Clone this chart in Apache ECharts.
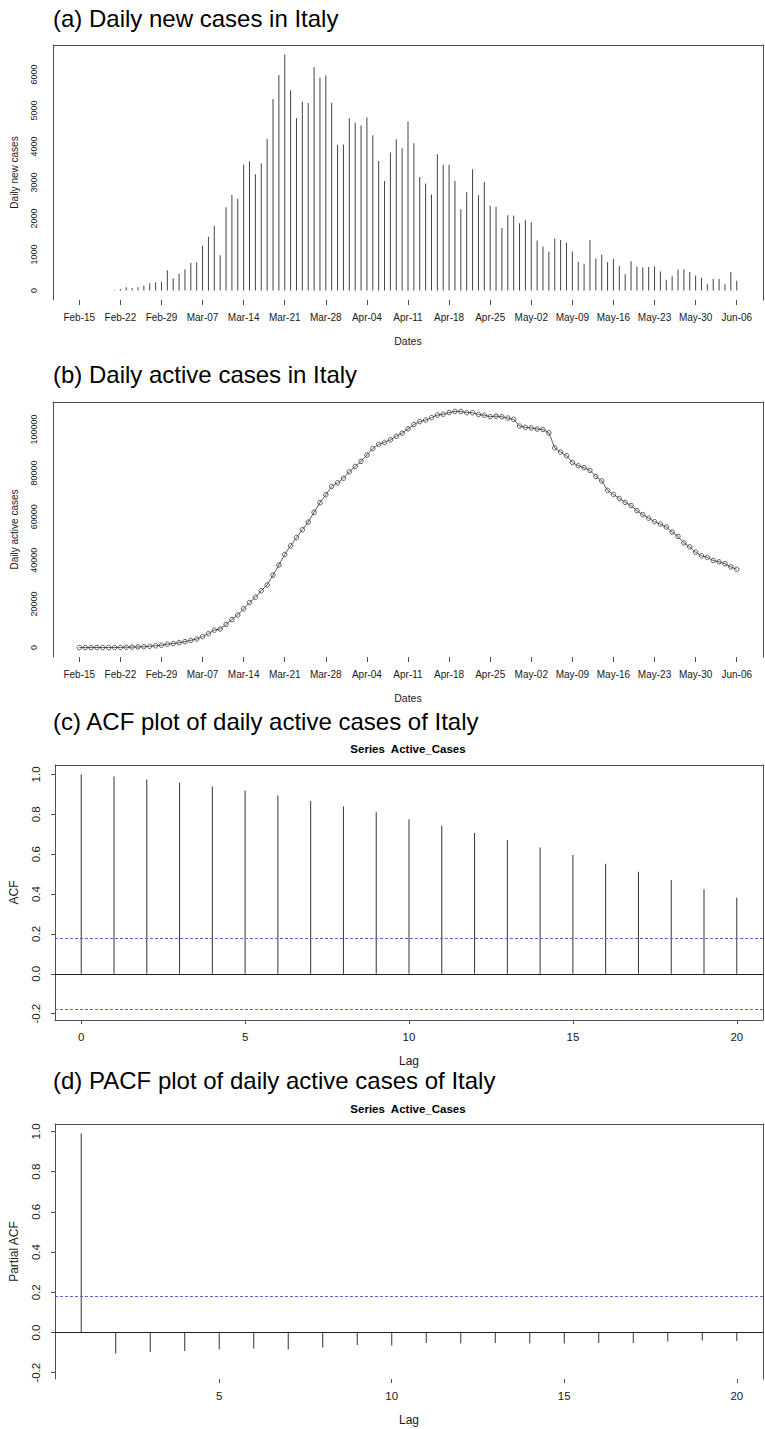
<!DOCTYPE html>
<html>
<head>
<meta charset="utf-8">
<script src="https://cdn.jsdelivr.net/npm/echarts@6/dist/echarts.min.js"></script>
<style>
  html, body { margin: 0; padding: 0; background: #fff; }
  #chart { width: 765px; height: 1429px; }
</style>
</head>
<body>
<div id="chart"></div>
<script>
// Italy, one value per day from Feb-15 (day 0) to Jun-06 (day 112)
const newCases = [
  0, 0, 0, 0, 0, 0,
  17, 42, 93, 74, 93, 131, 202, 233, 240,
  566, 342, 466, 587, 769, 778, 1247, 1492, 1797, 977,
  2313, 2651, 2547, 3497, 3590, 3233, 3526, 4207, 5322, 5986,
  6557, 5560, 4789, 5249, 5210, 6203, 5909, 5974, 5217, 4050, 4053,
  4782, 4668, 4585, 4805, 4316, 3599, 3039, 3836, 4204, 3951,
  4694, 4092, 3153, 2972, 2667, 3786, 3493, 3491, 3047, 2256,
  2729, 3370, 2646, 3021, 2357, 2324, 1739, 2091, 2086, 1872,
  1965, 1900, 1389, 1221, 1075, 1444, 1401, 1327, 1083, 802,
  744, 1402, 888, 992, 789, 875, 675, 451, 813, 665,
  642, 652, 669, 531, 300, 397, 584, 593, 516, 416, 355,
  178, 318, 321, 177, 518, 270
];

const activeCases = [
  3, 3, 3, 3, 3, 3,
  20, 62, 152, 221, 311, 385, 588, 821, 1049,
  1577, 1835, 2263, 2706, 3296, 3916, 5061, 6387, 7985, 8514,
  10590, 12839, 14955, 17750, 20603, 23073, 26062, 28710, 33190, 37860,
  42681, 46638, 50418, 54030, 57521, 62013, 66414, 70065, 73880, 75528, 77635,
  80572, 83049, 85388, 88274, 91246, 93187, 94067, 95262, 96877, 98273,
  100269, 102253, 103616, 104291, 105418, 106607, 106962, 107771, 108257, 108237,
  107709, 107699, 106848, 106527, 105847, 106103, 105813, 105205, 104657, 101551,
  100943, 100704, 100179, 99980, 98467, 91528, 89624, 87961, 84842, 83324,
  82488, 81266, 78457, 76440, 72070, 70187, 68351, 66553, 65129, 62752,
  60960, 59322, 57752, 56594, 55300, 52942, 50966, 47986, 46175, 43691, 42075,
  41367, 39893, 39297, 38429, 36976, 35877
];

// Weekly date ticks (day offsets and their labels)
const dateTickDays = [0, 7, 14, 21, 28, 35, 42, 49, 56, 63, 70, 77, 84, 91, 98, 105, 112];
const dateTickLabels = [
  'Feb-15', 'Feb-22', 'Feb-29', 'Mar-07', 'Mar-14', 'Mar-21', 'Mar-28', 'Apr-04', 'Apr-11',
  'Apr-18', 'Apr-25', 'May-02', 'May-09', 'May-16', 'May-23', 'May-30', 'Jun-06'
];
const newCaseTicks = [0, 1000, 2000, 3000, 4000, 5000, 6000];
const activeCaseTicks = [0, 20000, 40000, 60000, 80000, 100000];

// Autocorrelation of the active-case series
const acfLags = [0, 1, 2, 3, 4, 5, 6, 7, 8, 9, 10, 11, 12, 13, 14, 15, 16, 17, 18, 19, 20];
const acfValues = [
  1.0, 0.99, 0.975, 0.958, 0.94, 0.919, 0.894, 0.867, 0.839, 0.81,
  0.775, 0.743, 0.706, 0.671, 0.633, 0.596, 0.552, 0.512, 0.47, 0.424, 0.381
];
const pacfLags = [1, 2, 3, 4, 5, 6, 7, 8, 9, 10, 11, 12, 13, 14, 15, 16, 17, 18, 19, 20];
const pacfValues = [
  0.99, -0.105, -0.097, -0.092, -0.085, -0.08, -0.085, -0.075, -0.062, -0.065,
  -0.052, -0.055, -0.052, -0.055, -0.055, -0.052, -0.052, -0.045, -0.04, -0.042
];
const lagTicksAcf = [0, 5, 10, 15, 20];
const lagTicksPacf = [5, 10, 15, 20];
const corrTicks = [-0.2, 0, 0.2, 0.4, 0.6, 0.8, 1.0];

// ---- helpers ----
const FONT = '"Liberation Sans", Arial, Helvetica, sans-serif';
const FRAME = '#505050';
const INK = '#1a1a1a';
const CI_BLUE = '#5a6cc4';

// data range widened by 4% on each side
function padRange(lo, hi) {
  const d = (hi - lo) * 0.04;
  return [lo - d, hi + d];
}
const ciBound = 1.96 / Math.sqrt(activeCases.length);

const dayRange = padRange(0, newCases.length - 1);
const newRange = padRange(Math.min(...newCases), Math.max(...newCases));
const activeRange = padRange(Math.min(...activeCases), Math.max(...activeCases));
const acfXRange = padRange(acfLags[0], acfLags[acfLags.length - 1]);
const pacfXRange = padRange(pacfLags[0], pacfLags[pacfLags.length - 1]);
const acfYRange = padRange(Math.min(-ciBound, ...acfValues), Math.max(ciBound, ...acfValues));
const pacfYRange = padRange(Math.min(-ciBound, ...pacfValues), Math.max(ciBound, ...pacfValues));

const PLOT_LEFT = 53, PLOT_W = 710, PLOT_H = 255;
const gridTops = [45, 402, 765, 1124];

// frame-only axis (top or right side of a panel)
function frameX(grid, range) {
  return {
    gridIndex: grid, type: 'value', position: 'top', min: range[0], max: range[1],
    axisLine: { show: true, onZero: false, lineStyle: { color: FRAME, width: 1 } },
    axisTick: { show: false }, axisLabel: { show: false }, splitLine: { show: false }
  };
}
function frameY(grid, range) {
  return {
    gridIndex: grid, type: 'value', position: 'right', min: range[0], max: range[1],
    axisLine: { show: true, onZero: false, lineStyle: { color: FRAME, width: 1 } },
    axisTick: { show: false }, axisLabel: { show: false }, splitLine: { show: false }
  };
}
function dateAxis(grid) {
  return {
    gridIndex: grid, type: 'value', position: 'bottom', min: dayRange[0], max: dayRange[1],
    axisLine: { show: false, onZero: false },
    axisTick: { show: true, length: 5, customValues: dateTickDays, lineStyle: { color: FRAME } },
    axisLabel: {
      customValues: dateTickDays, fontSize: 10, margin: 12, color: INK, fontFamily: FONT,
      formatter: v => dateTickLabels[dateTickDays.indexOf(v)]
    },
    splitLine: { show: false },
    name: 'Dates', nameLocation: 'middle', nameGap: 35,
    nameTextStyle: { fontSize: 10.5, color: INK, fontFamily: FONT }
  };
}
function countAxis(grid, range, ticks, name) {
  return {
    gridIndex: grid, type: 'value', position: 'left', min: range[0], max: range[1],
    axisLine: { show: true, onZero: false, lineStyle: { color: FRAME, width: 1 } },
    axisTick: { show: false },
    axisLabel: {
      customValues: ticks, rotate: 90, fontSize: 9, margin: 15, color: INK, fontFamily: FONT,
      formatter: v => String(v)
    },
    splitLine: { show: false },
    name: name, nameLocation: 'middle', nameRotate: 90, nameGap: 34,
    nameTextStyle: { fontSize: 10, color: INK, fontFamily: FONT }
  };
}
function lagAxis(grid, range, ticks, showLine) {
  return {
    gridIndex: grid, type: 'value', position: 'bottom', min: range[0], max: range[1],
    axisLine: { show: showLine, onZero: false, lineStyle: { color: FRAME, width: 1 } },
    axisTick: { show: true, length: 4, customValues: ticks, lineStyle: { color: FRAME } },
    axisLabel: {
      customValues: ticks, fontSize: 11.5, margin: 11, color: INK, fontFamily: FONT,
      formatter: v => String(v)
    },
    splitLine: { show: false },
    name: 'Lag', nameLocation: 'middle', nameGap: 35,
    nameTextStyle: { fontSize: 12, color: INK, fontFamily: FONT }
  };
}
function corrAxis(grid, range, name) {
  return {
    gridIndex: grid, type: 'value', position: 'left', min: range[0], max: range[1],
    axisLine: { show: true, onZero: false, lineStyle: { color: FRAME, width: 1 } },
    axisTick: { show: true, length: 4, customValues: corrTicks, lineStyle: { color: FRAME } },
    axisLabel: {
      customValues: corrTicks, rotate: 90, fontSize: 11.5, margin: 13, color: INK, fontFamily: FONT,
      formatter: v => v.toFixed(1)
    },
    splitLine: { show: false },
    name: name, nameLocation: 'middle', nameRotate: 90, nameGap: 35,
    nameTextStyle: { fontSize: 12, color: INK, fontFamily: FONT }
  };
}
function refLine(value, dashed) {
  return {
    yAxis: value,
    lineStyle: dashed
      ? { color: CI_BLUE, type: [3, 2], width: 1 }
      : { color: '#222', type: 'solid', width: 1 }
  };
}
function heading(text, y) {
  return {
    type: 'text', x: PLOT_LEFT, y: y, silent: true,
    style: {
      text: text, font: '24px ' + FONT, fill: '#000',
      align: 'left', verticalAlign: 'middle', textAlign: 'left', textVerticalAlign: 'middle'
    }
  };
}
function seriesTitle(y) {
  return {
    type: 'text', x: PLOT_LEFT + PLOT_W / 2, y: y, silent: true,
    style: {
      text: 'Series\u00a0 Active_Cases', font: 'bold 11.5px ' + FONT, fill: '#000',
      align: 'center', verticalAlign: 'middle', textAlign: 'center', textVerticalAlign: 'middle'
    }
  };
}

const chart = echarts.init(document.getElementById('chart'), null, { renderer: 'svg' });

chart.setOption({
  animation: false,
  backgroundColor: '#fff',
  textStyle: { fontFamily: FONT },
  grid: gridTops.map(t => ({ left: PLOT_LEFT, top: t, width: PLOT_W, height: PLOT_H, containLabel: false })),
  xAxis: [
    dateAxis(0), frameX(0, dayRange),
    dateAxis(1), frameX(1, dayRange),
    lagAxis(2, acfXRange, lagTicksAcf, true), frameX(2, acfXRange),
    lagAxis(3, pacfXRange, lagTicksPacf, false), frameX(3, pacfXRange)
  ],
  yAxis: [
    countAxis(0, newRange, newCaseTicks, 'Daily new cases'), frameY(0, newRange),
    countAxis(1, activeRange, activeCaseTicks, 'Daily active cases'), frameY(1, activeRange),
    corrAxis(2, acfYRange, 'ACF'), frameY(2, acfYRange),
    corrAxis(3, pacfYRange, 'Partial ACF'), frameY(3, pacfYRange)
  ],
  series: [
    {
      name: 'Daily new cases', type: 'bar', xAxisIndex: 0, yAxisIndex: 0,
      data: newCases.map((v, i) => [i, v]),
      barWidth: 1, itemStyle: { color: '#444' }, silent: true
    },
    {
      name: 'Daily active cases', type: 'line', xAxisIndex: 2, yAxisIndex: 2,
      data: activeCases.map((v, i) => [i, v]),
      symbol: 'circle', symbolSize: 4.5, showAllSymbol: true,
      itemStyle: { color: 'rgba(255,255,255,0)', borderColor: '#333', borderWidth: 0.8 },
      lineStyle: { color: '#333', width: 0.8 }, silent: true
    },
    {
      name: 'ACF', type: 'bar', xAxisIndex: 4, yAxisIndex: 4,
      data: acfLags.map((l, i) => [l, acfValues[i]]),
      barWidth: 1, itemStyle: { color: '#333' }, silent: true,
      markLine: {
        silent: true, symbol: 'none', label: { show: false },
        data: [refLine(0, false), refLine(ciBound, true), refLine(-ciBound, true)]
      }
    },
    {
      name: 'Partial ACF', type: 'bar', xAxisIndex: 6, yAxisIndex: 6,
      data: pacfLags.map((l, i) => [l, pacfValues[i]]),
      barWidth: 1, itemStyle: { color: '#333' }, silent: true,
      markLine: {
        silent: true, symbol: 'none', label: { show: false },
        data: [refLine(0, false), refLine(ciBound, true)]
      }
    }
  ],
  graphic: [
    heading('(a) Daily new cases in Italy', 18),
    heading('(b) Daily active cases in Italy', 374.5),
    heading('(c) ACF plot of daily active cases of Italy', 721),
    seriesTitle(749),
    heading('(d) PACF plot of daily active cases of Italy', 1080.5),
    seriesTitle(1109)
  ]
});
</script>
</body>
</html>
